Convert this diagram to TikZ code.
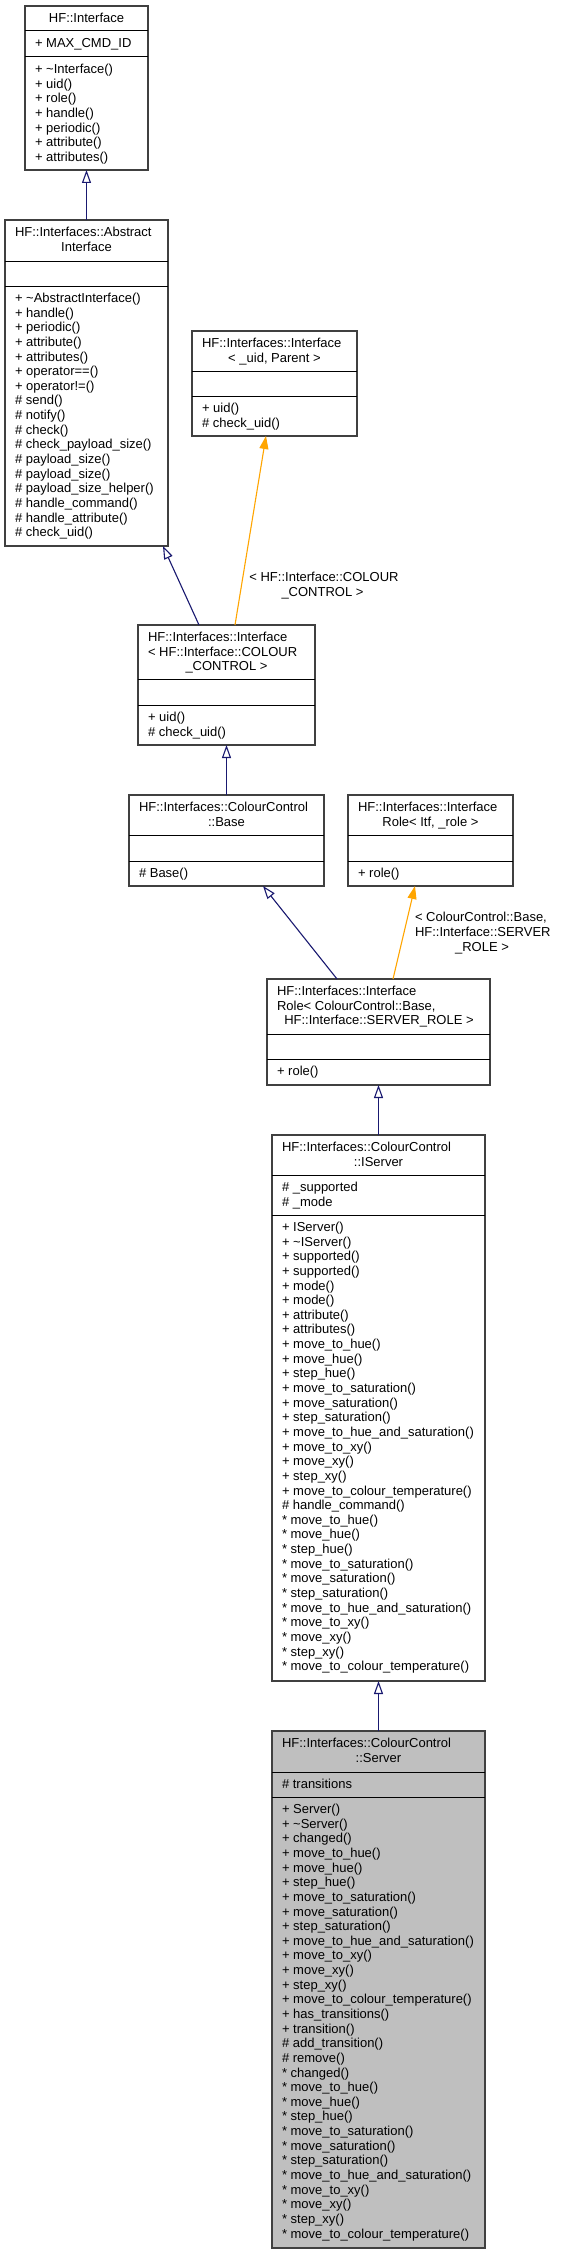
\documentclass[tikz,border=0pt]{standalone}
\usepackage{fontspec}
\setmainfont{Liberation Sans}
\usetikzlibrary{arrows.meta}
\definecolor{edgeblue}{HTML}{191970}
\definecolor{edgeorange}{HTML}{FFA500}
\definecolor{boxline}{HTML}{404040}
\definecolor{curfill}{HTML}{BFBFBF}
\newcounter{tn}
\tikzset{
 umlbox/.style={draw=boxline, line width=1.3pt, inner sep=0pt, outer sep=0pt},
 sepline/.style={draw=black, line width=1pt},
 txt/.style={inner sep=0pt, outer sep=0pt, font=\fontsize{13}{14.64}\selectfont, text=black},
 inh/.style={draw=edgeblue, line width=1.1pt, -{Triangle[open, length=13pt, width=9pt, fill=white]}},
 tmp/.style={draw=edgeorange, line width=1.1pt, -{Triangle[length=13pt, width=9pt]}},
}
\newcommand\classbox[8]{% name x1 x2 ytop sep1 sep2 ybot fill
  \node[umlbox, fill=#8, minimum width={(#3-#2)*1pt}, minimum height={(#7-#4)*1pt}] (#1) at ({(#2+#3)/2},{(#4+#7)/2}) {};
  \draw[sepline] (#2,#5) -- (#3,#5);
  \draw[sepline] (#2,#6) -- (#3,#6);
}
\newcommand\ttlL[3]{\stepcounter{tn}\node[txt, anchor=base west] (t\arabic{tn}) at (#1,#2) {#3};}
\newcommand\ttlC[3]{\stepcounter{tn}\node[txt, anchor=base] (t\arabic{tn}) at (#1,#2) {#3};}
\newcommand\memberlist[3]{%
  \foreach \mtext [count=\mi from 0] in {#3} {\stepcounter{tn}\node[txt, anchor=base west] (t\arabic{tn}) at ({#1+10}, {#2+16.5+\mi*14.64}) {\mtext};}}
\begin{document}
\begin{tikzpicture}[x=1pt,y=-1pt]
\fill[white] (0,0) rectangle (561,2253);
\useasboundingbox (0,0) rectangle (561,2253);

% HF::Interface
\classbox{iface}{25}{148}{6}{31}{57}{170}{white}
\ttlC{86.5}{22.5}{HF::Interface}
\memberlist{25}{31}{+ MAX\_CMD\_ID}
\memberlist{25}{57}{+ \textasciitilde Interface(), + uid(), + role(), + handle(), + periodic(), + attribute(), + attributes()}

% AbstractInterface
\classbox{abs}{5}{168}{220}{261}{286}{546}{white}
\ttlL{15}{236.5}{HF::Interfaces::Abstract}
\ttlC{86.5}{251.14}{Interface}
\memberlist{5}{286}{+ \textasciitilde AbstractInterface(), + handle(), + periodic(), + attribute(), + attributes(), + operator==(), + operator!=(), \# send(), \# notify(), \# check(), \# check\_payload\_size(), \# payload\_size(), \# payload\_size(), \# payload\_size\_helper(), \# handle\_command(), \# handle\_attribute(), \# check\_uid()}

% Interface< _uid, Parent >
\classbox{tmpl}{192}{357}{331}{371}{396}{436}{white}
\ttlL{202}{347.5}{HF::Interfaces::Interface}
\ttlC{274.5}{362.14}{< \_uid, Parent >}
\memberlist{192}{396}{+ uid(), \# check\_uid()}

% Interface< COLOUR_CONTROL >
\classbox{ifcc}{138}{315}{625}{679}{705}{745}{white}
\ttlL{148}{641.5}{HF::Interfaces::Interface}
\ttlL{148}{656.14}{< HF::Interface::COLOUR}
\ttlC{226.5}{670.78}{\_CONTROL >}
\memberlist{138}{705}{+ uid(), \# check\_uid()}

% ColourControl::Base
\classbox{base}{129}{324}{795}{835}{861}{886}{white}
\ttlL{139}{811.5}{HF::Interfaces::ColourControl}
\ttlC{226.5}{826.14}{::Base}
\memberlist{129}{861}{\# Base()}

% InterfaceRole< Itf, _role >
\classbox{roletmpl}{348}{513}{795}{835}{861}{886}{white}
\ttlL{358}{811.5}{HF::Interfaces::Interface}
\ttlC{430.5}{826.14}{Role< Itf, \_role >}
\memberlist{348}{861}{+ role()}

% InterfaceRole< ColourControl::Base, SERVER_ROLE >
\classbox{role}{267}{490}{979}{1034}{1059}{1085}{white}
\ttlL{277}{995.5}{HF::Interfaces::Interface}
\ttlL{277}{1010.14}{Role< ColourControl::Base,}
\ttlC{379}{1024.78}{HF::Interface::SERVER\_ROLE >}
\memberlist{267}{1059}{+ role()}

% ColourControl::IServer
\classbox{iserver}{272}{485}{1135}{1175}{1215}{1681}{white}
\ttlL{282}{1151.5}{HF::Interfaces::ColourControl}
\ttlC{378.5}{1166.14}{::IServer}
\memberlist{272}{1175}{\# \_supported, \# \_mode}
\memberlist{272}{1215}{+ IServer(), + \textasciitilde IServer(), + supported(), + supported(), + mode(), + mode(), + attribute(), + attributes(), + move\_to\_hue(), + move\_hue(), + step\_hue(), + move\_to\_saturation(), + move\_saturation(), + step\_saturation(), + move\_to\_hue\_and\_saturation(), + move\_to\_xy(), + move\_xy(), + step\_xy(), + move\_to\_colour\_temperature(), \# handle\_command(), * move\_to\_hue(), * move\_hue(), * step\_hue(), * move\_to\_saturation(), * move\_saturation(), * step\_saturation(), * move\_to\_hue\_and\_saturation(), * move\_to\_xy(), * move\_xy(), * step\_xy(), * move\_to\_colour\_temperature()}

% ColourControl::Server
\classbox{server}{272}{485}{1731}{1772}{1797}{2248}{curfill}
\ttlL{282}{1747.5}{HF::Interfaces::ColourControl}
\ttlC{378.5}{1762.14}{::Server}
\memberlist{272}{1772}{\# transitions}
\memberlist{272}{1797}{+ Server(), + \textasciitilde Server(), + changed(), + move\_to\_hue(), + move\_hue(), + step\_hue(), + move\_to\_saturation(), + move\_saturation(), + step\_saturation(), + move\_to\_hue\_and\_saturation(), + move\_to\_xy(), + move\_xy(), + step\_xy(), + move\_to\_colour\_temperature(), + has\_transitions(), + transition(), \# add\_transition(), \# remove(), * changed(), * move\_to\_hue(), * move\_hue(), * step\_hue(), * move\_to\_saturation(), * move\_saturation(), * step\_saturation(), * move\_to\_hue\_and\_saturation(), * move\_to\_xy(), * move\_xy(), * step\_xy(), * move\_to\_colour\_temperature()}

% connectors
\draw[inh] (abs.north) -- (iface.south);
\draw[inh] ([xshift=61pt]ifcc.north west) -- ([xshift=158pt]abs.south west);
\draw[tmp] ([xshift=97pt]ifcc.north west) -- ([xshift=74pt]tmpl.south west);
\draw[inh] (base.north) -- (ifcc.south);
\draw[inh] ([xshift=70pt]role.north west) -- ([xshift=134pt]base.south west);
\draw[tmp] ([xshift=126pt]role.north west) -- ([xshift=67pt]roletmpl.south west);
\draw[inh] (iserver.north) -- (role.south);
\draw[inh] (server.north) -- (iserver.south);

% edge labels
\ttlC{324}{581.5}{< HF::Interface::COLOUR}
\ttlC{322.5}{596}{\_CONTROL >}
\ttlL{415}{921}{< ColourControl::Base,}
\ttlL{415}{936}{HF::Interface::SERVER}
\ttlC{482}{951}{\_ROLE >}
\end{tikzpicture}
\end{document}
